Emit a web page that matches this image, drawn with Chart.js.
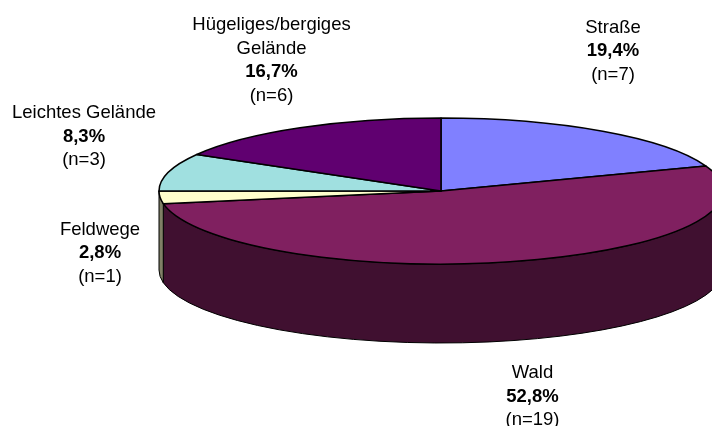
<!DOCTYPE html>
<html>
<head>
<meta charset="utf-8">
<style>
  html, body { margin: 0; padding: 0; background: #fff; overflow: hidden; }
  canvas { display: block; }
</style>
<script src="https://cdn.jsdelivr.net/npm/chart.js@4"></script>
</head>
<body>
<canvas id="pieChart" width="712" height="426"></canvas>
<script>
let labels = [['Straße'], ['Wald'], ['Feldwege'], ['Leichtes Gelände'], ['Hügeliges/bergiges', 'Gelände']];
let counts = [7, 19, 1, 3, 6];
let colorHex = ['#8080FF', '#802060', '#FFFFCC', '#A0E0E0', '#600070'];
let sideHex = ['#404080', '#401030', '#808066', '#507070', '#300038'];

// centre of first label line, one entry per slice
let labelX = [613, 532.5, 100, 84, 271.5];
let labelY = [27.5, 373, 229.5, 113, 25];
let lineHeight = 23.7;
let fontSize = 18.5;

// the picture is a tilted pie: circle of the chart area stretched sideways, plus a wall below
let stretchX = 282 / 73;
let depthRatio = 79 / 73;

let pie3d = {
    id: 'pie3d',
    beforeDatasetDraw(chart, args) {
        let c = chart.ctx;
        let arcs = args.meta.data;
        let r = arcs[0].outerRadius;
        let rx = r * stretchX;
        let depth = r * depthRatio;
        let cx = arcs[0].x;
        let cy = arcs[0].y;
        c.save();
        c.lineJoin = 'round';
        c.strokeStyle = '#000';
        c.lineWidth = 1;

        // wall, only the front half of the ellipse shows
        arcs.forEach((arc, i) => {
            let a0 = Math.max(arc.startAngle, 0);
            let a1 = Math.min(arc.endAngle, Math.PI);
            if (a1 <= a0) return;
            c.beginPath();
            c.ellipse(cx, cy, rx, r, 0, a0, a1);
            c.ellipse(cx, cy + depth, rx, r, 0, a1, a0, true);
            c.closePath();
            c.fillStyle = sideHex[i];
            c.fill();
            c.stroke();
        });

        // top face
        c.lineWidth = 1.5;
        arcs.forEach((arc, i) => {
            c.beginPath();
            c.moveTo(cx, cy);
            c.ellipse(cx, cy, rx, r, 0, arc.startAngle, arc.endAngle);
            c.closePath();
            c.fillStyle = colorHex[i];
            c.fill();
            c.stroke();
        });
        c.restore();
        return false;
    },
    afterDraw(chart) {
        let c = chart.ctx;
        let total = counts.reduce((a, b) => a + b, 0);
        let family = '"Liberation Sans", Arial, sans-serif';
        c.save();
        c.fillStyle = '#000';
        c.textAlign = 'center';
        c.textBaseline = 'middle';
        labels.forEach((lines, i) => {
            let y = labelY[i];
            c.font = fontSize + 'px ' + family;
            lines.forEach(line => {
                c.fillText(line, labelX[i], y);
                y += lineHeight;
            });
            c.font = 'bold ' + fontSize + 'px ' + family;
            c.fillText((counts[i] / total * 100).toFixed(1).replace('.', ',') + '%', labelX[i], y);
            y += lineHeight;
            c.font = fontSize + 'px ' + family;
            c.fillText('(n=' + counts[i] + ')', labelX[i], y);
        });
        c.restore();
    }
};

let ctx = document.getElementById('pieChart').getContext('2d');
let pieChart = new Chart(ctx, {
    type: 'pie',
    data: {
        labels: labels.map(l => l.join(' ')),
        datasets: [{
            data: counts,
            backgroundColor: colorHex,
            borderWidth: 0
        }]
    },
    options: {
        responsive: false,
        animation: false,
        layout: {
            padding: { left: 368, right: 198, top: 118, bottom: 162 }
        },
        plugins: {
            legend: { display: false },
            tooltip: { enabled: false }
        }
    },
    plugins: [pie3d]
});
</script>
</body>
</html>
